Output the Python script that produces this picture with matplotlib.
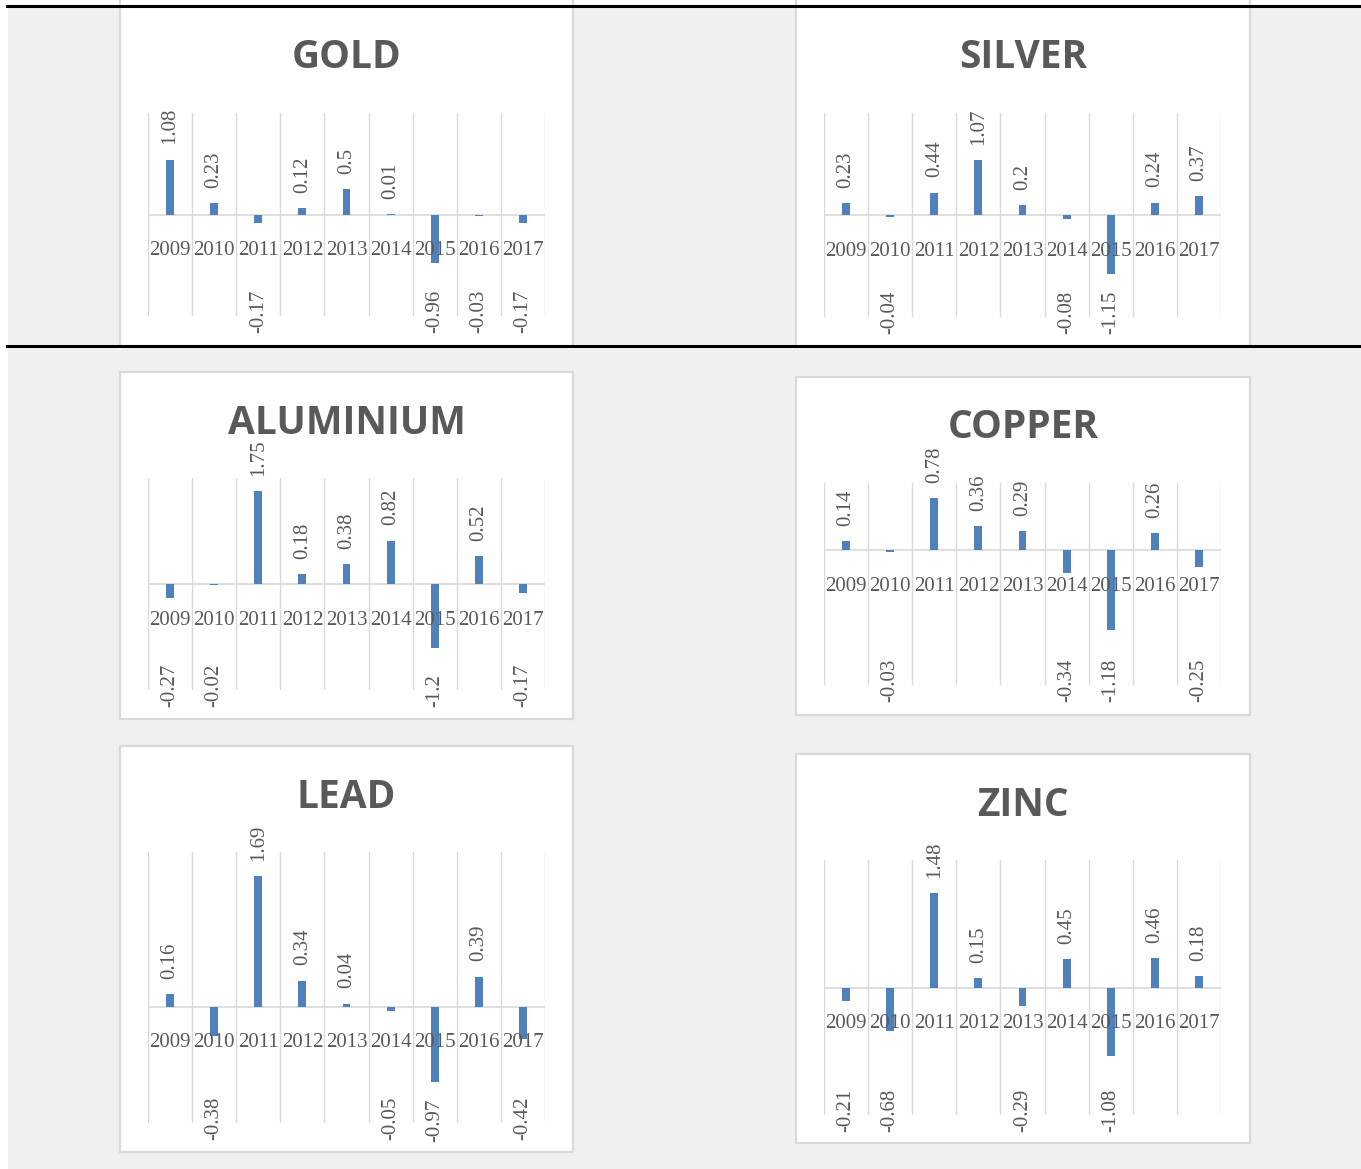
import matplotlib.pyplot as plt
from matplotlib.patches import Rectangle
import numpy as np

# yearly returns of each metal
years = ['2009', '2010', '2011', '2012', '2013', '2014', '2015', '2016', '2017']
gold = [1.08, 0.23, -0.17, 0.12, 0.5, 0.01, -0.96, -0.03, -0.17]
silver = [0.23, -0.04, 0.44, 1.07, 0.2, -0.08, -1.15, 0.24, 0.37]
aluminium = [-0.27, -0.02, 1.75, 0.18, 0.38, 0.82, -1.2, 0.52, -0.17]
copper = [0.14, -0.03, 0.78, 0.36, 0.29, -0.34, -1.18, 0.26, -0.25]
lead = [0.16, -0.38, 1.69, 0.34, 0.04, -0.05, -0.97, 0.39, -0.42]
zinc = [-0.21, -0.68, 1.48, 0.15, -0.29, 0.45, -1.08, 0.46, 0.18]

W, H = 1361, 1169
BAR = '#4f81bd'
GRID = '#d9d9d9'
TXT = '#595959'

fig = plt.figure(figsize=(W / 100, H / 100), dpi=100)
fig.patch.set_facecolor('white')


def fbox(x0, y0, x1, y1):
    # pixel box (top-left origin) -> figure fraction [left, bottom, width, height]
    return [x0 / W, 1 - y1 / H, (x1 - x0) / W, (y1 - y0) / H]


def frect(x0, y0, x1, y1, **kw):
    l, b, w, h = fbox(x0, y0, x1, y1)
    fig.patches.append(Rectangle((l, b), w, h, transform=fig.transFigure, **kw))


# grey page behind the charts
frect(8, 7, W + 5, H + 5, facecolor='#f0f0f0', edgecolor='none', zorder=0)

# (title, values, panel box, plot box, title y, ylim)
panels = [
    ('GOLD', gold, (120, -10, 573, 346), (148, 113, 545, 316), 57, (-2, 2)),
    ('SILVER', silver, (796, -10, 1250, 346), (824, 113, 1221, 317), 57, (-2, 2)),
    ('ALUMINIUM', aluminium, (120, 372, 573, 719), (148, 478, 545, 690), 423, (-2, 2)),
    ('COPPER', copper, (796, 377, 1250, 715), (824, 483, 1221, 685), 428, (-2, 1)),
    ('LEAD', lead, (120, 746, 573, 1152), (148, 852, 545, 1123), 797, (-1.5, 2)),
    ('ZINC', zinc, (796, 754, 1250, 1143), (824, 860, 1221, 1115), 805, (-2, 2)),
]

neg_labels = []
for title, vals, pbox, abox, ty, ylim in panels:
    frect(*pbox, facecolor='white', edgecolor=GRID, linewidth=1.6, zorder=1)
    fig.text((pbox[0] + pbox[2]) / 2 / W, 1 - ty / H, title, ha='center', va='center',
             fontsize=28, fontweight='bold', family='Open Sans', color=TXT, zorder=5)

    ax = fig.add_axes(fbox(*abox))
    ax.set_zorder(3)
    ax.set_facecolor('none')
    x = np.arange(len(years))
    ax.bar(x, vals, width=0.18, color=BAR, zorder=3)
    ax.set_xlim(-0.5, len(years) - 0.5)
    ax.set_ylim(*ylim)
    ax.set_xticks(np.arange(-0.5, len(years)), minor=True)
    ax.set_xticks([])
    ax.set_yticks([])
    ax.grid(which='minor', axis='x', color=GRID, linewidth=1)
    ax.tick_params(which='both', length=0)
    ax.axhline(0, color=GRID, linewidth=1.2, zorder=2)
    for s in ax.spines.values():
        s.set_visible(False)

    for i, yr in enumerate(years):
        ax.annotate(yr, xy=(i, 0), xytext=(0, -26), textcoords='offset points',
                    ha='center', va='center', fontsize=15, family='Liberation Serif',
                    color=TXT, annotation_clip=False, zorder=4)

    for i, v in enumerate(vals):
        if v >= 0:
            ax.annotate(f'{v:g}', xy=(i, v), xytext=(0, 11), textcoords='offset points',
                        rotation=90, ha='center', va='bottom', fontsize=15,
                        family='Liberation Serif', color=TXT, annotation_clip=False, zorder=4)
        else:
            t = ax.annotate(f'{v:g}', xy=(i, v), xytext=(0, -12), textcoords='offset points',
                            rotation=90, ha='center', va='top', fontsize=15,
                            family='Liberation Serif', color=TXT, annotation_clip=False, zorder=4)
            neg_labels.append((ax, t))

# short negative labels drop down to sit under the plot area
fig.canvas.draw()
r = fig.canvas.get_renderer()
for ax, t in neg_labels:
    floor = ax.get_window_extent(r).y0 - 17
    bb = t.get_window_extent(r)
    if bb.y0 > floor:
        dx, dy = t.xyann
        t.xyann = (dx, dy - (bb.y0 - floor) * 72 / fig.dpi)

# table rules
fig.add_artist(plt.Line2D([7 / W, 1], [1 - 6 / H, 1 - 6 / H], color='black', linewidth=2.2,
                          transform=fig.transFigure, zorder=10))
fig.add_artist(plt.Line2D([7 / W, 1], [1 - 345.5 / H, 1 - 345.5 / H], color='black', linewidth=2.2,
                          transform=fig.transFigure, zorder=10))

fig.savefig('out.png', dpi=100)
